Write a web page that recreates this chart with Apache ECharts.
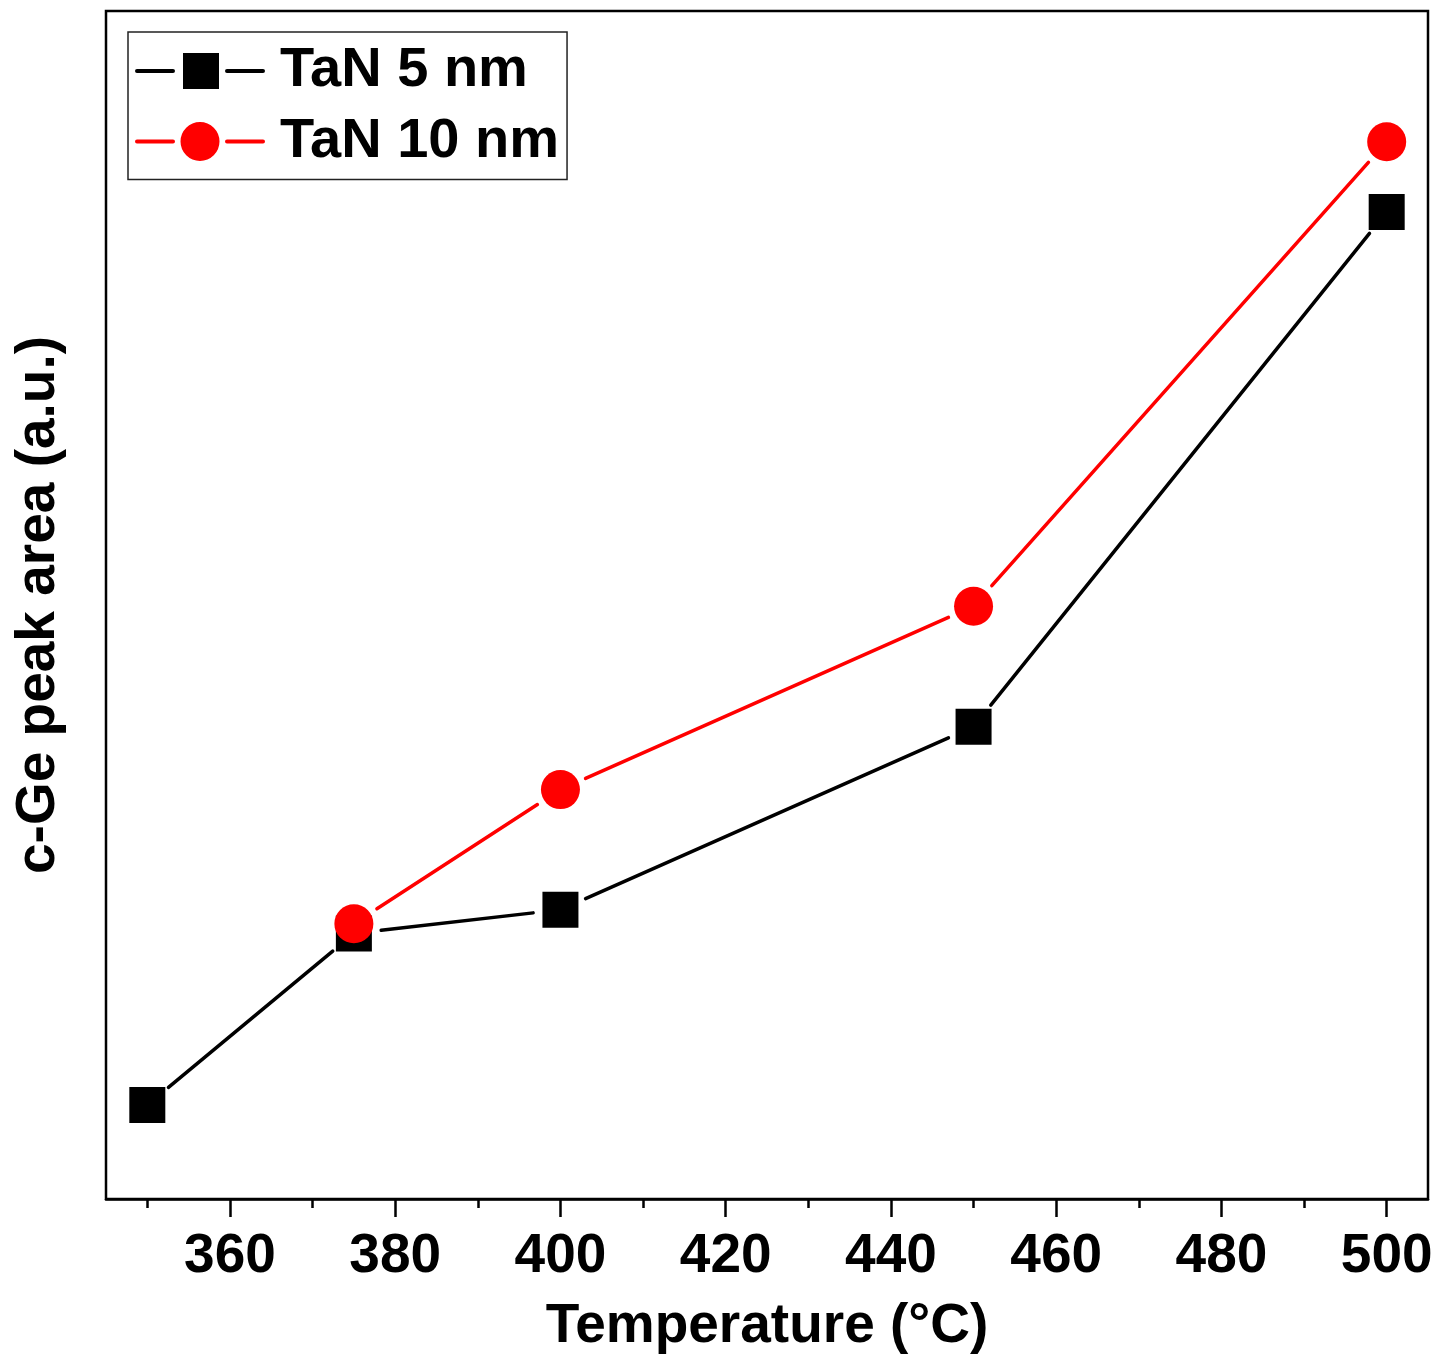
<!DOCTYPE html>
<html>
<head>
<meta charset="utf-8">
<script src="https://cdn.jsdelivr.net/npm/echarts@6/dist/echarts.min.js"></script>
<style>
html,body{margin:0;padding:0;background:#fff;}
#chart{width:1437px;height:1357px;}
</style>
</head>
<body>
<div id="chart"></div>
<script>
// ---- data ----
var seriesNames = ['TaN 5 nm', 'TaN 10 nm'];
var temps5 = [350, 375, 400, 450, 500];
var area5 = [7.92, 22.35, 24.35, 39.76, 83.09];
var temps10 = [375, 400, 450, 500];
var area10 = [23.17, 34.46, 49.90, 88.99];
var majorTicks = [360, 380, 400, 420, 440, 460, 480, 500];
var minorTicks = [350, 370, 390, 410, 430, 450, 470, 490];

var FONT = '"Liberation Sans", Arial, "Helvetica", sans-serif';

function pts(xs, ys) { return xs.map(function (x, i) { return [x, ys[i]]; }); }
function segs(xs, ys) {
  var out = [];
  for (var i = 1; i < xs.length; i++) out.push([xs[i - 1], ys[i - 1], xs[i], ys[i]]);
  return out;
}
function segRenderer(color) {
  return function (params, api) {
    var a = api.coord([api.value(0), api.value(1)]);
    var b = api.coord([api.value(2), api.value(3)]);
    var dx = b[0] - a[0], dy = b[1] - a[1];
    var len = Math.sqrt(dx * dx + dy * dy);
    var gap = 27.5;
    if (len <= 2 * gap) return null;
    var ux = dx / len, uy = dy / len;
    return {
      type: 'line',
      shape: { x1: a[0] + ux * gap, y1: a[1] + uy * gap, x2: b[0] - ux * gap, y2: b[1] - uy * gap },
      style: { stroke: color, lineWidth: 3.5, lineCap: 'round' }
    };
  };
}

var squareIcon = 'path://M2 18H38A2 2 0 0 1 38 22H2A2 2 0 0 1 2 18Z M48 2H84V38H48Z M92 18H128A2 2 0 0 1 128 22H92A2 2 0 0 1 92 18Z';
var circleIcon = 'path://M2 18H38A2 2 0 0 1 38 22H2A2 2 0 0 1 2 18Z M45.5 20A19.5 19.5 0 1 0 84.5 20A19.5 19.5 0 1 0 45.5 20Z M92 18H128A2 2 0 0 1 128 22H92A2 2 0 0 1 92 18Z';

var chart = echarts.init(document.getElementById('chart'), null, { renderer: 'canvas' });
chart.setOption({
  animation: false,
  backgroundColor: '#ffffff',
  grid: {
    left: 106, top: 11, right: 9, bottom: 158,
    outerBoundsMode: 'none',
    containLabel: false,
    show: true, borderColor: '#000', borderWidth: 2.5, backgroundColor: 'transparent'
  },
  legend: {
    orient: 'vertical',
    left: 128, top: 32,
    padding: [11, 8, 10, 7],
    borderColor: '#222', borderWidth: 1.5,
    itemWidth: 130, itemHeight: 40,
    itemGap: 14.5,
    symbolKeepAspect: true,
    selectedMode: false,
    textStyle: { fontFamily: FONT, fontWeight: 'bold', fontSize: 56, color: '#000', lineHeight: 56, padding: [0, 0, 0, 10] },
    data: [
      { name: seriesNames[0], icon: squareIcon, itemStyle: { color: '#000' } },
      { name: seriesNames[1], icon: circleIcon, itemStyle: { color: '#ff0000' } }
    ]
  },
  xAxis: [{
    type: 'value', min: 345, max: 505, position: 'bottom',
    name: 'Temperature (°C)', nameLocation: 'middle', nameGap: 100,
    nameTextStyle: { fontFamily: FONT, fontWeight: 'bold', fontSize: 55, color: '#000' },
    axisLine: { show: true, lineStyle: { color: '#000', width: 2.5 } },
    axisTick: { show: true, customValues: majorTicks, length: 18, inside: false, lineStyle: { color: '#000', width: 2.5 } },
    axisLabel: { show: true, customValues: majorTicks, margin: 30, fontFamily: FONT, fontWeight: 'bold', fontSize: 55, color: '#000' },
    splitLine: { show: false }
  }, {
    type: 'value', min: 345, max: 505, position: 'bottom',
    axisLine: { show: false },
    axisTick: { show: true, customValues: minorTicks, length: 9, inside: false, lineStyle: { color: '#000', width: 2.5 } },
    axisLabel: { show: false },
    splitLine: { show: false }
  }],
  yAxis: {
    type: 'value', min: 0, max: 100,
    name: 'c-Ge peak area (a.u.)', nameLocation: 'middle', nameGap: 40, nameRotate: 90,
    nameTextStyle: { fontFamily: FONT, fontWeight: 'bold', fontSize: 55, color: '#000' },
    axisLine: { show: false }, axisTick: { show: false }, axisLabel: { show: false }, splitLine: { show: false }
  },
  series: [
    {
      name: seriesNames[0], type: 'custom', xAxisIndex: 0, renderItem: segRenderer('#000'),
      encode: { x: [0, 2], y: [1, 3] }, data: segs(temps5, area5), z: 2, silent: true
    },
    {
      name: seriesNames[0], type: 'scatter', xAxisIndex: 0, symbol: 'rect', symbolSize: 36,
      itemStyle: { color: '#000', opacity: 1 }, data: pts(temps5, area5), z: 3
    },
    {
      name: seriesNames[1], type: 'custom', xAxisIndex: 0, renderItem: segRenderer('#ff0000'),
      encode: { x: [0, 2], y: [1, 3] }, data: segs(temps10, area10), z: 4, silent: true
    },
    {
      name: seriesNames[1], type: 'scatter', xAxisIndex: 0, symbol: 'circle', symbolSize: 39,
      itemStyle: { color: '#ff0000', opacity: 1 }, data: pts(temps10, area10), z: 5
    }
  ]
});
</script>
</body>
</html>
